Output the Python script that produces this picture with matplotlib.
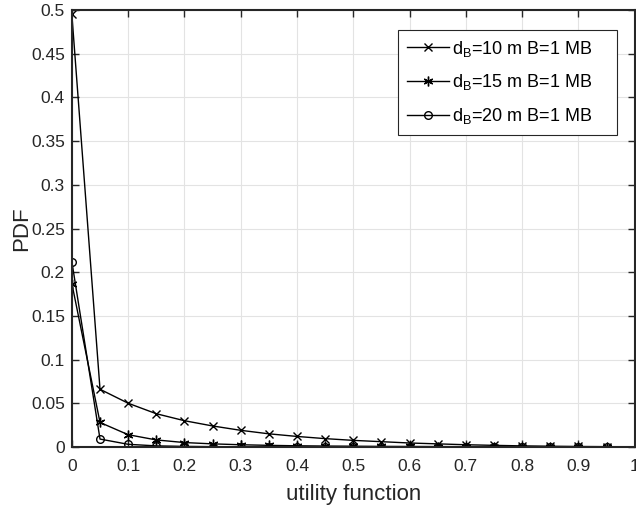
import matplotlib
matplotlib.use("Agg")
import matplotlib.pyplot as plt
import numpy as np

plt.rcParams['font.family'] = ['Liberation Sans', 'DejaVu Sans']
plt.rcParams['mathtext.default'] = 'regular'

# utility function values (x axis)
u = [0, 0.05, 0.1, 0.15, 0.2, 0.25, 0.3, 0.35, 0.4, 0.45,
     0.5, 0.55, 0.6, 0.65, 0.7, 0.75, 0.8, 0.85, 0.9, 0.95]

pdf_d10 = [0.495, 0.066, 0.050, 0.038, 0.030, 0.024, 0.019, 0.015, 0.012, 0.0095,
           0.0075, 0.006, 0.0045, 0.0035, 0.0025, 0.0018, 0.0012, 0.0008, 0.0005, 0.0003]
pdf_d15 = [0.187, 0.028, 0.014, 0.008, 0.005, 0.0035, 0.0025, 0.0018, 0.0013, 0.001,
           0.0008, 0.0006, 0.0005, 0.0004, 0.0003, 0.0002, 0.0002, 0.0001, 0.0001, 0.0001]
pdf_d20 = [0.212, 0.009, 0.003, 0.0012, 0.0006, 0.0003, 0.0002, 0.0001, 0.0001, 0.0001,
           0.0, 0.0, 0.0, 0.0, 0.0, 0.0, 0.0, 0.0, 0.0, 0.0]

labels = ['$d_B$=10 m B=1 MB', '$d_B$=15 m B=1 MB', '$d_B$=20 m B=1 MB']

fig = plt.figure(figsize=(6.36, 5.05), dpi=100)
ax = fig.add_axes([0.113, 0.115, 0.885, 0.865])

ax.plot(u, pdf_d10, color='black', lw=1, marker='x', ms=6, mew=1, label=labels[0] + '    ')
ax.plot(u, pdf_d15, color='black', lw=1, marker=(6, 2, 0), ms=7, mew=1, label=labels[1] + '    ')
ax.plot(u, pdf_d20, color='black', lw=1, marker='o', ms=5.5, mew=1, mfc='none', label=labels[2] + '    ')

ax.set_xlim(0, 1)
ax.set_ylim(0, 0.5)
ax.set_xticks(np.arange(0, 1.01, 0.1))
ax.set_yticks(np.arange(0, 0.501, 0.05))
ax.set_xticklabels(['%g' % round(v, 2) for v in np.arange(0, 1.01, 0.1)])
ax.set_yticklabels(['%g' % round(v, 2) for v in np.arange(0, 0.501, 0.05)])
ax.tick_params(direction='in', top=True, right=True, labelsize=12.5,
               color='#262626', labelcolor='#262626', length=5, width=1, pad=5)
ax.tick_params(axis='x', pad=9)
for s in ax.spines.values():
    s.set_color('#262626')
    s.set_linewidth(1.5)
ax.grid(True, color='#e3e3e3', lw=0.8)
ax.set_axisbelow(True)

ax.set_xlabel('utility function', fontsize=16, color='#262626', labelpad=7)
ax.set_ylabel('PDF', fontsize=16, color='#262626', labelpad=-1)

leg = ax.legend(loc='upper right', bbox_to_anchor=(0.968, 0.955), fontsize=13,
                fancybox=False, edgecolor='#262626', framealpha=1,
                handlelength=2.3, handletextpad=0.15, borderpad=0.5, labelspacing=0.75,
                borderaxespad=0)
leg.get_frame().set_linewidth(0.8)

fig.savefig('out.png', dpi=100)
